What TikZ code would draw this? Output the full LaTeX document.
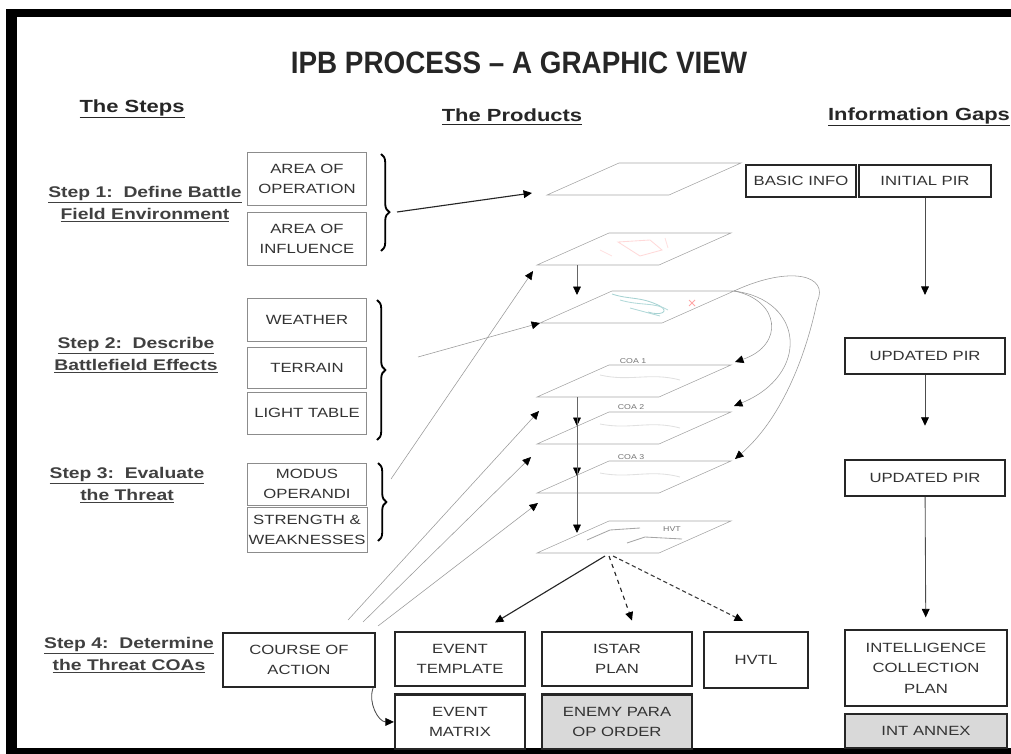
\documentclass[tikz,border=0pt]{standalone}
\usepackage{fontspec}
\setmainfont{Liberation Sans}[FakeStretch=1.25]
\newfontfamily\titlefont{Liberation Sans}[FakeStretch=0.9]
\usetikzlibrary{arrows.meta,calc,positioning,decorations.pathreplacing}

\begin{document}
\begin{tikzpicture}[x=0.025cm,y=-0.025cm,>={Triangle[length=6pt,width=5.5pt,color=black]},semithick]
 \tikzstyle{leftbox}=[draw=black!45, thin, minimum width=2.98cm, inner sep=1pt, align=center, font=\fontsize{9.5}{14}\selectfont, text=black!80]
 \tikzstyle{prodbox}=[draw=black!85, line width=1.5pt, inner sep=1pt, align=center, font=\fontsize{9.5}{14.5}\selectfont, text=black!80]
 \tikzstyle{steptext}=[align=center, font=\bfseries\fontsize{11}{15.5}\selectfont, text=black!75]
 \tikzstyle{head}=[font=\bfseries\fontsize{12.5}{14}\selectfont, text=black!85]
 \tikzstyle{plane}=[draw=black!35, thin]
 \tikzstyle{planelbl}=[font=\fontsize{5}{6}\selectfont, text=black!55, inner sep=0pt]
 \tikzstyle{feed}=[->, draw=black!40, thin]
 \tikzstyle{brc}=[decorate, decoration={brace, amplitude=6pt}, line width=1.3pt]

 \useasboundingbox (0,0) rectangle (1011,754);
 % frame
 \fill (6,9) rectangle (1011,17);
 \fill (6,9) rectangle (17,754);
 \fill (6,748) rectangle (1011,754);

 \node[font=\titlefont\bfseries\fontsize{22}{25}\selectfont, text=black!85] (title) at (519,63) {IPB PROCESS – A GRAPHIC VIEW};
 \node[head] (hsteps) at (132,109) {\underline{The Steps}};
 \node[head] (hprod)  at (512,117) {\underline{The Products}};
 \node[head] (hgaps)  at (919,117) {\underline{Information Gaps}};

 % the steps
 \node[steptext] (s1) at (145,204) {\underline{Step 1:\ \ Define Battle}\\\underline{Field Environment}};
 \node[steptext] (s2) at (136,355) {\underline{Step 2:\ \ Describe}\\\underline{Battlefield Effects}};
 \node[steptext] (s3) at (127,485) {\underline{Step 3:\ \ Evaluate}\\\underline{the Threat}};
 \node[steptext] (s4) at (129,655) {\underline{Step 4:\ \ Determine}\\\underline{the Threat COAs}};

 \node[leftbox, minimum height=1.33cm] (ao) at (307,179) {AREA OF\\OPERATION};
 \node[leftbox, minimum height=1.33cm, below=0.15cm of ao] (ai) {AREA OF\\INFLUENCE};
 \node[leftbox, minimum height=1.08cm] (wx) at (307,320) {WEATHER};
 \node[leftbox, minimum height=1.03cm, below=0.12cm of wx] (terr) {TERRAIN};
 \node[leftbox, minimum height=1.03cm, below=0.1cm of terr] (lt) {LIGHT TABLE};
 \node[leftbox, minimum height=1.05cm] (mo) at (307,484) {MODUS\\OPERANDI};
 \node[leftbox, minimum height=1.12cm, below=0.05cm of mo] (sw) {STRENGTH \&\\WEAKNESSES};

 \draw[brc, decoration={aspect=0.6}] (381,154) -- (381,251);
 \draw[brc] (377,300) -- (377,440);
 \draw[brc] (378,463) -- (378,541);
 \coordinate (b1) at (397,212);
 \coordinate (b2) at (418,357);
 \coordinate (b3) at (391,479);

 % planes
 \foreach \pl/\px/\py in {p0/547/195,p1/537/265,p2/540/323,coa1/537/397,coa2/537/444,coa3/537/493,hvt/537/553}
   \draw[plane] (\px,\py) coordinate (\pl-bl) -- ++(122,0) coordinate (\pl-br) -- ++(72,-32) coordinate (\pl-tr) -- ++(-122,0) coordinate (\pl-tl) -- cycle;

 \node[planelbl] (lc1) at ($(coa1-tl)+(24,-4)$) {COA 1};
 \node[planelbl] (lc2) at ($(coa2-tl)+(22,-5)$) {COA 2};
 \node[planelbl] (lc3) at ($(coa3-tl)+(22,-4)$) {COA 3};
 \node[planelbl] (lhv) at ($(hvt-tl)+(63,8)$) {HVT};

 % map content
 \draw[red!15] (618,242) -- (650,240) -- (662,250) -- (640,256) -- cycle;
 \draw[red!12] (600,250) -- (612,256) (665,238) -- (668,248);
 \draw[teal!35] (612,294) .. controls (630,300) and (640,296) .. (660,306) .. controls (670,312) and (660,316) .. (648,312);
 \draw[teal!30] (620,300) .. controls (640,306) and (655,302) .. (668,310) (630,308) -- (660,316);
 \draw[red!35] (689,300) -- (695,306) (695,300) -- (689,306);
 \draw[black!12] (600,375) .. controls (630,382) and (650,372) .. (680,380);
 \draw[black!12] (600,424) .. controls (630,430) and (650,420) .. (680,428);
 \draw[black!12] (600,473) .. controls (630,479) and (650,469) .. (680,477);
 \draw[black!35] (587,540) -- (610,530) -- (640,528);
 \draw[black!35] (627,543) -- (645,537) -- (682,539);

 % feeds into the products
 \draw[->, black!85, thick] (b1) -- ($(p0-bl)+(-15,-2)$);
 \draw[feed] (b2) -- (p2-bl);
 \draw[feed] (b3) -- ($(p1-bl)+(-4,6)$);
 \draw[->, black!60] ($(p1-bl)+(40,0)$) -- ++(0,30);
 \foreach \d in {29,79,136}
   \draw[->, black!60] ($(coa1-bl)+(40,0)$) -- ++(0,\d);

 \draw[feed] (p2-tr) .. controls (780,300) and (785,345) .. ($(coa1-tr)+(4,-3)$);
 \draw[feed] (p2-tr) .. controls (805,300) and (810,375) .. ($(coa2-tr)+(3,-6)$);
 \draw[feed] (p2-tr) .. controls (790,265) and (830,275) .. (817,302) .. controls (805,360) and (780,420) .. ($(coa3-tr)+(4,-2)$);

 % products
 \node[prodbox, minimum width=3.8cm, minimum height=1.35cm] (coa) at (299,660) {COURSE OF\\ACTION};
 \node[prodbox, minimum width=3.25cm, minimum height=1.37cm] (et) at (460,659) {EVENT\\TEMPLATE};
 \node[prodbox, minimum width=3.25cm, minimum height=1.37cm, below=0.15cm of et] (em) {EVENT\\MATRIX};
 \node[prodbox, minimum width=3.73cm, minimum height=1.37cm] (istar) at (617,659) {ISTAR\\PLAN};
 \node[prodbox, fill=black!15, minimum width=3.73cm, minimum height=1.37cm, below=0.15cm of istar] (enemy) {ENEMY PARA\\OP ORDER};
 \node[prodbox, minimum width=2.58cm, minimum height=1.4cm] (hvtl) at (756,660) {HVTL};

 \coordinate (c1) at ($(coa.north east)+(-28,-12)$);
 \coordinate (c2) at ($(coa.north east)+(-13,-10)$);
 \coordinate (c3) at ($(coa.north east)+(2,-6)$);
 \draw[feed] (c1) -- ($(coa1-bl)+(2,14)$);
 \draw[feed] (c2) -- ($(coa2-bl)+(-6,13)$);
 \draw[feed] (c3) -- ($(coa3-bl)+(1,10)$);

 \draw[->, black!85, thick] ($(hvt-bl)+(68,3)$) -- ($(et.north)+(35,-8)$);
 \draw[->, black!85, thick, dashed] ($(hvt-bl)+(72,3)$) -- ($(istar.north)+(15,-10)$);
 \draw[->, black!75, thick, dash pattern=on 3pt off 2pt] ($(hvt-bl)+(76,3)$) -- ($(hvtl.north)+(-13,-10)$);
 \draw[->, black!70] ($(coa.south east)+(-3,0)$) to[out=-110,in=180] (em.west);

 % information gaps
 \node[prodbox, minimum width=2.73cm, minimum height=0.8cm] (basic) at (801,181) {BASIC INFO};
 \node[prodbox, minimum width=3.3cm, minimum height=0.8cm] (pir0) at (925,181) {INITIAL PIR};
 \node[prodbox, minimum width=4cm, minimum height=0.9cm] (pir1) at (925,356) {UPDATED PIR};
 \node[prodbox, minimum width=4cm, minimum height=0.9cm] (pir2) at (925,478) {UPDATED PIR};
 \node[prodbox, minimum width=4.05cm, minimum height=1.88cm] (icp) at (926,668) {INTELLIGENCE\\COLLECTION\\PLAN};
 \node[prodbox, fill=black!15, minimum width=4.05cm, minimum height=0.85cm, below=0.15cm of icp] (annex) {INT ANNEX};

 \draw[->, black!70, shorten >=1.05cm] (pir0) -- (pir1);
 \draw[->, black!70, shorten >=0.83cm] (pir1) -- (pir2);
 \draw[->, black!70, shorten >=0.3cm] (pir2) -- (icp);
\end{tikzpicture}
\end{document}
